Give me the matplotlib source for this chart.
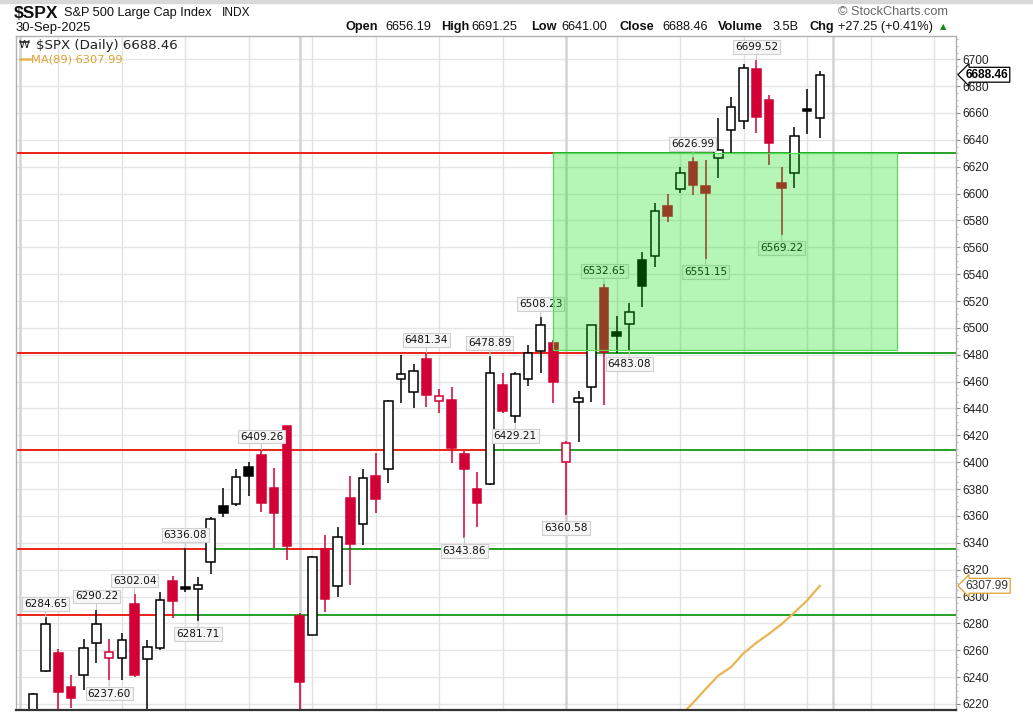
import matplotlib
matplotlib.use("Agg")
import matplotlib.pyplot as plt
from matplotlib.patches import Rectangle
import numpy as np

# ---------------- data ----------------
dates = ["Jul-02","Jul-03","Jul-07","Jul-08","Jul-09","Jul-10","Jul-11","Jul-14","Jul-15","Jul-16",
         "Jul-17","Jul-18","Jul-21","Jul-22","Jul-23","Jul-24","Jul-25","Jul-28","Jul-29","Jul-30",
         "Jul-31","Aug-01","Aug-04","Aug-05","Aug-06","Aug-07","Aug-08","Aug-11","Aug-12","Aug-13",
         "Aug-14","Aug-15","Aug-18","Aug-19","Aug-20","Aug-21","Aug-22","Aug-25","Aug-26","Aug-27",
         "Aug-28","Aug-29","Sep-02","Sep-03","Sep-04","Sep-05","Sep-08","Sep-09","Sep-10","Sep-11",
         "Sep-12","Sep-15","Sep-16","Sep-17","Sep-18","Sep-19","Sep-22","Sep-23","Sep-24","Sep-25",
         "Sep-26","Sep-29","Sep-30"]
opens  = [6204.5,6244.8,6258.2,6232.8,6241.6,6265.6,6254.4,6254.0,6294.4,6253.2,
          6261.4,6311.8,6307.0,6305.4,6325.9,6367.4,6368.6,6396.7,6405.4,6381.0,
          6427.0,6285.7,6271.3,6335.1,6308.0,6373.6,6353.8,6389.7,6394.7,6461.7,
          6452.5,6476.8,6445.8,6446.1,6406.1,6380.0,6383.8,6457.3,6434.6,6461.7,
          6483.0,6489.0,6400.4,6445.0,6456.2,6529.5,6497.2,6502.7,6550.6,6553.8,
          6590.8,6603.2,6623.8,6605.7,6626.3,6647.4,6654.3,6692.8,6669.7,6608.1,
          6615.1,6662.8,6656.19]
highs  = [6228.0,6284.65,6260.7,6241.6,6268.6,6290.22,6268.4,6272.6,6302.04,6267.6,
          6303.6,6315.3,6336.08,6314.7,6359.4,6381.0,6395.0,6400.4,6409.26,6395.9,
          6427.0,6288.0,6329.9,6345.8,6352.0,6389.7,6394.7,6407.1,6446.3,6479.8,
          6473.1,6481.34,6454.3,6456.2,6408.6,6392.9,6478.89,6466.6,6467.4,6487.3,
          6508.23,6491.0,6416.0,6453.2,6502.5,6532.65,6508.9,6518.3,6556.3,6593.2,
          6599.7,6619.6,6626.99,6625.0,6656.5,6672.2,6696.3,6699.52,6673.4,6619.6,
          6649.4,6677.7,6691.25]
lows   = [6201.0,6244.0,6201.0,6217.0,6230.4,6250.3,6237.60,6237.8,6239.8,6201.6,
          6260.2,6283.8,6303.0,6281.71,6316.7,6359.4,6367.4,6374.8,6363.1,6335.9,
          6327.2,6212.7,6271.3,6288.7,6299.8,6308.6,6338.3,6362.4,6384.3,6443.9,
          6440.1,6440.9,6436.4,6399.2,6343.86,6352.0,6383.0,6436.9,6429.21,6456.8,
          6466.2,6443.9,6360.58,6415.3,6445.0,6442.6,6481.6,6483.08,6515.8,6545.6,
          6579.1,6600.7,6599.0,6551.15,6611.4,6630.5,6647.9,6644.9,6621.3,6569.22,
          6603.9,6644.2,6641.00]
closes = [6227.4,6279.3,6229.1,6224.2,6261.4,6279.3,6258.9,6267.6,6241.5,6262.6,
          6297.4,6296.8,6305.6,6308.6,6357.5,6362.0,6388.6,6389.8,6369.8,6362.4,
          6337.6,6236.6,6329.2,6297.9,6344.5,6338.9,6388.5,6372.4,6445.3,6465.7,
          6468.1,6449.8,6449.2,6410.4,6394.7,6369.4,6466.2,6438.4,6465.7,6481.1,
          6502.2,6459.9,6414.5,6448.0,6502.2,6482.3,6494.0,6512.1,6531.2,6587.3,
          6583.5,6615.6,6606.4,6600.2,6632.5,6664.7,6693.7,6657.3,6637.5,6603.9,
          6643.1,6661.2,6688.46]
prev_close = 6198.0

ma_index = [51,52,53,54,55,56,57,58,59,60,61,62]
ma_values = [6211.0,6220.7,6231.1,6241.1,6247.4,6257.9,6265.5,6272.3,6279.5,6288.1,6297.1,6307.99]

# labelled pivots (candle index, kind)
pivots = [(1,"h"),(5,"h"),(8,"h"),(6,"l"),(12,"h"),(13,"l"),(18,"h"),(31,"h"),(36,"h"),
          (34,"l"),(38,"l"),(42,"l"),(40,"h"),(45,"h"),(47,"l"),(52,"h"),(53,"l"),(59,"l"),(57,"h")]

support_levels = [6630.5, 6481.3, 6409.2, 6335.4, 6286.0]
red_segments = [(6630.5, None, 41.0), (6481.3, None, 44.0), (6409.2, None, 35.7),
                (6335.4, None, 14.0), (6335.4, 20.0, 24.0), (6286.0, None, 11.0)]
zone_low, zone_high = 6483.5, 6630.5
zone_start, zone_end = 41.0, 68.1

week_lines = [2,7,12,17,22,27,32,37,46,51,56,61,66,71]
month_lines = [-1,21,42,63]

yticks = list(range(6220, 6701, 20))

header_pieces = [("Open",True,346),("6656.19",False,385),("High",True,441.5),("6691.25",False,471.5),
                 ("Low",True,531.5),("6641.00",False,561),("Close",True,619),("6688.46",False,662.5),
                 ("Volume",True,718),("3.5B",False,773),("Chg",True,809),("+27.25 (+0.41%)",False,838)]

# ---------------- figure ----------------
W, H = 1033, 713
fig = plt.figure(figsize=(W/100, H/100), dpi=100)
fig.patch.set_facecolor("white")
L, R, T, B = 16, 956, 36, 710
ax = fig.add_axes([L/W, 1-B/H, (R-L)/W, (B-T)/H])
xlo, xhi = -1.34, 72.73
ylo, yhi = 6215.5, 6717.3
ax.set_xlim(xlo, xhi)
ax.set_ylim(ylo, yhi)

RED = "#d20034"
n = len(opens)

# grid
for y in yticks:
    ax.axhline(y, color="#e6e6e6", lw=1.0, zorder=0)
for w in week_lines:
    ax.axvline(w, color="#e2e2e2", lw=1.0, zorder=0)
for m in month_lines:
    ax.axvline(m, color="#d2d2d2", lw=1.8, zorder=0)

# support / resistance lines
for lv in support_levels:
    ax.axhline(lv, color="#139a13", lw=1.3, zorder=1)
for lv, a, b in red_segments:
    a = xlo if a is None else a
    ax.plot([a, b], [lv, lv], color="#ff1a1a", lw=1.3, zorder=1.1, solid_capstyle="butt")

# candles
bw = 0.68
for i in range(n):
    o, h, l, c = opens[i], highs[i], lows[i], closes[i]
    pc = prev_close if i == 0 else closes[i-1]
    col = "black" if c >= pc else RED
    hollow = c > o
    ax.vlines(i, l, h, color=col, lw=1.1, zorder=2)
    bot = min(o, c)
    ht = max(abs(c - o), 1.4)
    ax.add_patch(Rectangle((i - bw/2, bot), bw, ht,
                           facecolor="white" if hollow else col,
                           edgecolor=col, lw=1.1, zorder=2.2))

# MA line
ax.plot(ma_index, ma_values, color="#e9b552", lw=1.6, zorder=2.5)

# pivot labels
for i, kind in pivots:
    val = highs[i] if kind == "h" else lows[i]
    dy = 9.5 if kind == "h" else -9.5
    ax.annotate(f"{val:.2f}", xy=(i, val), xytext=(0, dy), textcoords="offset points",
                ha="center", va="center", fontsize=7.6, family="DejaVu Sans", color="#111111",
                bbox=dict(boxstyle="square,pad=0.18", fc="#f6f6f6", ec="#d0d0d0", lw=0.8),
                arrowprops=dict(arrowstyle="-", color="#c8c8c8", lw=0.8, shrinkA=0, shrinkB=0),
                zorder=3)

# green zone (translucent, on top)
ax.add_patch(Rectangle((zone_start, zone_low), zone_end - zone_start, zone_high - zone_low,
                       facecolor="#00dd00", alpha=0.29, edgecolor="none", zorder=5))
ax.add_patch(Rectangle((zone_start, zone_low), zone_end - zone_start, zone_high - zone_low,
                       facecolor="none", edgecolor="#55dd55", lw=0.9, zorder=5.1))

# axes styling
ax.yaxis.tick_right()
ax.set_yticks(yticks)
ax.set_yticklabels([str(t) for t in yticks], fontsize=8.6, family="Liberation Sans", color="#222222")
ax.set_yticks(np.arange(6220, 6716, 5), minor=True)
ax.tick_params(axis="y", which="major", length=3, pad=1.5, color="#888888")
ax.tick_params(axis="y", which="minor", length=1.5, color="#aaaaaa")
ax.set_xticks([])
for s in ["left", "top", "right"]:
    ax.spines[s].set_color("#b0b0b0")
    ax.spines[s].set_linewidth(1.0)
ax.spines["bottom"].set_color("#333333")
ax.spines["bottom"].set_linewidth(1.6)

# right price tags
ax.annotate(f"{closes[-1]:.2f}", xy=(1.0, closes[-1]), xycoords=("axes fraction", "data"),
            xytext=(7, 0), textcoords="offset points", ha="left", va="center",
            fontsize=8.6, fontweight="bold", family="Liberation Sans", color="black",
            bbox=dict(boxstyle="larrow,pad=0.12", fc="white", ec="black", lw=0.9),
            annotation_clip=False, zorder=10)
ax.annotate(f"{ma_values[-1]:.2f}", xy=(1.0, ma_values[-1]), xycoords=("axes fraction", "data"),
            xytext=(7, 0), textcoords="offset points", ha="left", va="center",
            fontsize=8.6, family="Liberation Sans", color="#333333",
            bbox=dict(boxstyle="larrow,pad=0.12", fc="white", ec="#e0a030", lw=0.9),
            annotation_clip=False, zorder=10)

# legend inside axes
def px(x, y):
    return x / W, 1 - y / H
fig.text(*px(36, 45), f"$SPX (Daily) {closes[-1]:.2f}", fontsize=9.6, family="DejaVu Sans",
         color="#222222", va="center", ha="left")
fig.text(*px(24, 45), "₩", fontsize=8, family="DejaVu Sans", color="#222222", va="center", ha="center")
fig.add_artist(plt.Line2D([20/W, 30/W], [1-59/H, 1-59/H], color="#e9b552", lw=1.8))
fig.text(*px(31, 59), f"MA(89) {ma_values[-1]:.2f}", fontsize=8.2, family="DejaVu Sans",
         color="#e0a030", va="center", ha="left")

# header
fig.add_artist(Rectangle((0, 1-3/H), 1, 3/H, transform=fig.transFigure, color="#d8d8d8"))
fig.text(*px(14, 13), "$SPX", fontsize=12.5, fontweight="bold", family="Liberation Sans",
         va="center", ha="left", color="#111111")
fig.text(*px(64, 13), "S&P 500 Large Cap Index", fontsize=9.2, family="Liberation Sans",
         va="center", ha="left", color="#111111")
fig.text(*px(222, 13), "INDX", fontsize=8.6, family="Liberation Sans",
         va="center", ha="left", color="#111111")
fig.text(*px(15, 28), "30-Sep-2025", fontsize=9.4, family="Liberation Sans",
         va="center", ha="left", color="#111111")
for txt, bold, x in header_pieces:
    fig.text(*px(x, 27), txt, fontsize=9.2, fontweight="bold" if bold else "normal",
             family="Liberation Sans", va="center", ha="left", color="#111111")
fig.text(*px(940, 27), "▲", fontsize=6, family="DejaVu Sans", color="#1a8a1a", va="center", ha="left")
fig.text(*px(838, 12), "© StockCharts.com", fontsize=9.2, family="Liberation Sans",
         va="center", ha="left", color="#666666")

fig.savefig("out.png", dpi=100, facecolor="white")
